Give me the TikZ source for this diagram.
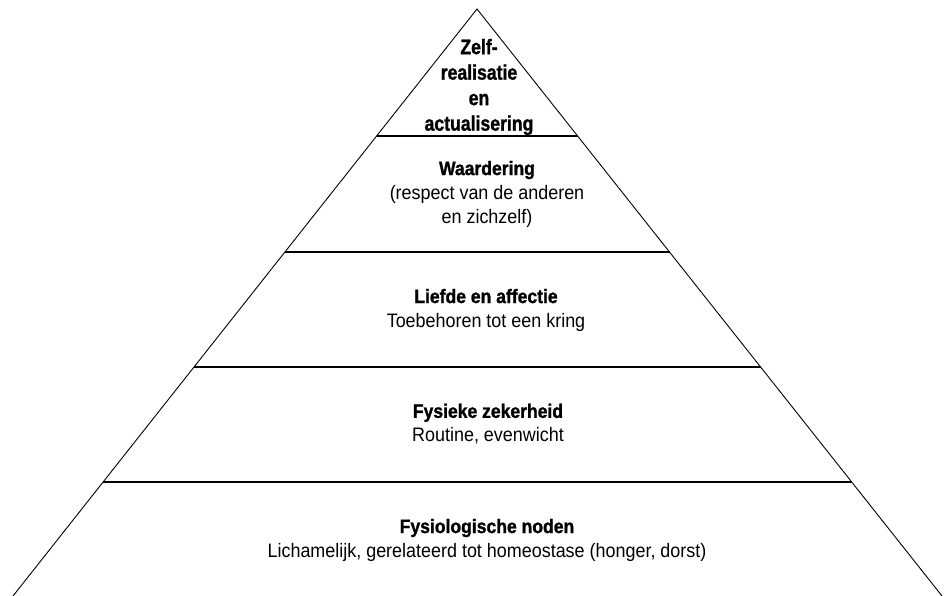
\documentclass[tikz,border=0pt]{standalone}
\usepackage{fontspec}
\setmainfont{Liberation Sans}[UprightFeatures={FakeStretch=0.92},
  BoldFeatures={FakeStretch=0.9, FakeBold=1.2}]
\newfontfamily\apexfont{Liberation Sans}[FakeStretch=0.84,
  BoldFeatures={FakeBold=1.2}]
\usetikzlibrary{calc}

\begin{document}
\begin{tikzpicture}[x=1pt, y=-1pt,
      side/.style = { draw, line width=0.9pt },
      tier/.style = { draw, line width=1.8pt },
      tiertext/.style = { align=center, inner sep=0pt,
        font=\fontsize{19.5}{24}\selectfont },
      apextext/.style = { align=center, inner sep=0pt,
        font=\apexfont\bfseries\fontsize{21}{25.5}\selectfont }]
    \useasboundingbox (0,0) rectangle (944,596);
    % outline of the pyramid
    \coordinate (apex) at (477,9);
    \coordinate (baseleft) at (13,596);
    \coordinate (baseright) at (942,596);
    \draw[side] (baseleft) -- (apex) -- (baseright);
    % borders between the tiers
    \foreach \t/\n in {0.2164/a, 0.4140/b, 0.6099/c, 0.8058/d} {
      \coordinate (l\n) at ($(apex)!\t!(baseleft)$);
      \coordinate (r\n) at ($(apex)!\t!(baseright)$);
      \draw[tier] (l\n) -- (r\n);
    }
    % texts of the tiers
    \node [apextext] (self) at (479,87) {Zelf-\\ realisatie\\ en\\ actualisering};
    \node [tiertext] (esteem) at (487,194) {\textbf{Waardering}\\ (respect van de anderen\\ en zichzelf)};
    \node [tiertext] (love) at (486,310) {\textbf{Liefde en affectie}\\ Toebehoren tot een kring};
    \node [tiertext] (safety) at (488,424) {\textbf{Fysieke zekerheid}\\ Routine, evenwicht};
    \node [tiertext] (needs) at (487,540) {\textbf{Fysiologische noden}\\ Lichamelijk, gerelateerd tot homeostase (honger, dorst)};
  \end{tikzpicture}
\end{document}
